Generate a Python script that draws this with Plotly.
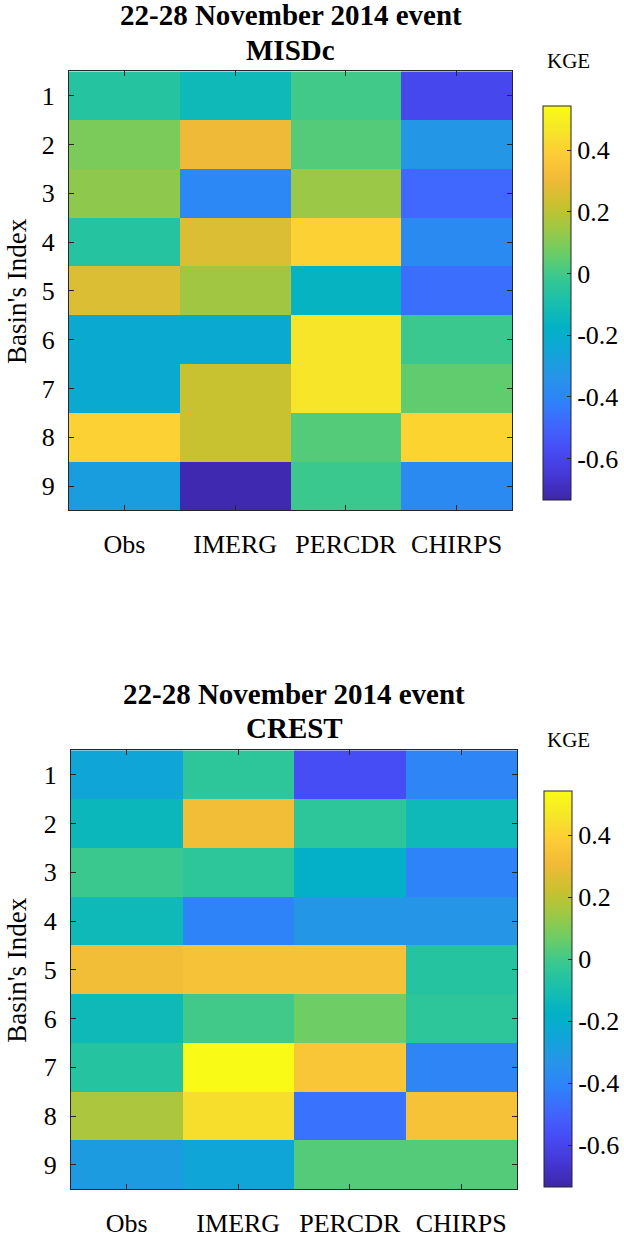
import plotly.graph_objects as go

products = ["Obs", "IMERG", "PERCDR", "CHIRPS"]
basins = [1, 2, 3, 4, 5, 6, 7, 8, 9]
title_line1 = "22-28 November 2014 event"
model_names = ["MISDc", "CREST"]

# KGE values, rows = basins 1..9, columns = Obs, IMERG, PERCDR, CHIRPS
kge_misdc = [
    [-0.06, -0.13, 0.00, -0.59],
    [0.09, 0.30, 0.03, -0.32],
    [0.12, -0.39, 0.14, -0.49],
    [-0.06, 0.26, 0.40, -0.38],
    [0.26, 0.15, -0.16, -0.47],
    [-0.22, -0.22, 0.46, -0.01],
    [-0.22, 0.22, 0.46, 0.05],
    [0.40, 0.22, 0.03, 0.41],
    [-0.29, -0.72, -0.01, -0.38],
]
kge_crest = [
    [-0.25, -0.04, -0.57, -0.40],
    [-0.14, 0.32, -0.04, -0.13],
    [-0.01, -0.04, -0.18, -0.41],
    [-0.13, -0.41, -0.32, -0.33],
    [0.32, 0.34, 0.34, -0.06],
    [-0.13, 0.00, 0.07, -0.04],
    [-0.06, 0.54, 0.36, -0.40],
    [0.17, 0.44, -0.46, 0.34],
    [-0.30, -0.25, 0.03, 0.03],
]
cbar_ticks = [-0.6, -0.4, -0.2, 0, 0.2, 0.4]
cbar_ticktext = ["-0.6", "-0.4", "-0.2", "0", "0.2", "0.4"]
zmin, zmax = -0.735, 0.543

parula_rgb = [
    (0.2422, 0.1504, 0.6603), (0.2706, 0.2147, 0.8364), (0.2783, 0.2925, 0.9558),
    (0.2540, 0.3966, 0.9972), (0.1808, 0.5090, 0.9768), (0.1531, 0.5790, 0.9125),
    (0.0684, 0.6440, 0.8480), (0.0077, 0.6937, 0.7778), (0.0956, 0.7499, 0.6826),
    (0.2100, 0.7830, 0.5740), (0.4155, 0.8031, 0.4050), (0.6166, 0.7838, 0.2685),
    (0.7908, 0.7567, 0.1836), (0.9408, 0.7276, 0.2173), (0.9935, 0.7957, 0.2166),
    (0.9628, 0.9020, 0.1558), (0.9769, 0.9839, 0.0805),
]
n = len(parula_rgb)
parula = [[i / (n - 1), "rgb(%d,%d,%d)" % tuple(round(c * 255) for c in rgb)]
          for i, rgb in enumerate(parula_rgb)]

W, H = 624, 1238
FONT = "Liberation Serif"
AX = "#262626"

panels = [
    dict(z=kge_misdc, x0=69, x1=512, y0=72, y1=515, cb_x=543, cb_top=107, cb_len=398),
    dict(z=kge_crest, x0=71, x1=517, y0=757, y1=1200, cb_x=544, cb_top=798, cb_len=400),
]

fig = go.Figure()
annotations = []
for i, p in enumerate(panels):
    sfx = "" if i == 0 else "2"
    fig.add_trace(go.Heatmap(
        z=p["z"], x=products, y=basins,
        xaxis="x" + sfx, yaxis="y" + sfx,
        colorscale=parula, zmin=zmin, zmax=zmax,
        colorbar=dict(
            x=p["cb_x"] / W, xanchor="left", xref="paper",
            y=1 - p["cb_top"] / H, yanchor="top", yref="paper",
            len=p["cb_len"] / H, lenmode="fraction",
            thickness=28, thicknessmode="pixels",
            outlinecolor=AX, outlinewidth=1,
            tickvals=cbar_ticks, ticktext=cbar_ticktext,
            ticks="inside", ticklen=4, tickcolor=AX,
            tickfont=dict(family=FONT, size=26, color="black"),
            ypad=0, xpad=0,
        ),
        hoverinfo="skip",
    ))
    xa = dict(
        domain=[p["x0"] / W, p["x1"] / W],
        anchor="y" + sfx,
        showline=True, linecolor=AX, linewidth=1, mirror="ticks",
        ticks="inside", ticklen=5, tickcolor=AX,
        tickfont=dict(family=FONT, size=26, color="black"),
        ticklabelstandoff=10,
        showgrid=False, zeroline=False, fixedrange=True,
    )
    ya = dict(
        domain=[1 - p["y1"] / H, 1 - p["y0"] / H],
        anchor="x" + sfx,
        range=[9.5, 0.5],
        tickvals=basins,
        showline=True, linecolor=AX, linewidth=1, mirror="ticks",
        ticks="inside", ticklen=5, tickcolor=AX,
        tickfont=dict(family=FONT, size=26, color="black"),
        ticklabelstandoff=8,
        showgrid=False, zeroline=False, fixedrange=True,
    )
    fig.update_layout(**{"xaxis" + sfx: xa, "yaxis" + sfx: ya})
    cx = (p["x0"] + p["x1"]) / 2
    annotations += [
        dict(text="<b>%s</b>" % title_line1, x=cx / W, y=1 - (p["y0"] - 57) / H,
             xref="paper", yref="paper", showarrow=False, xanchor="center", yanchor="middle",
             font=dict(family=FONT, size=29, color="black")),
        dict(text="<b>%s</b>" % model_names[i], x=cx / W, y=1 - (p["y0"] - 22) / H,
             xref="paper", yref="paper", showarrow=False, xanchor="center", yanchor="middle",
             font=dict(family=FONT, size=29, color="black")),
        dict(text="Basin's Index", x=17 / W, y=1 - ((p["y0"] + p["y1"]) / 2) / H,
             xref="paper", yref="paper", showarrow=False, xanchor="center", yanchor="middle",
             textangle=-90, font=dict(family=FONT, size=27, color="black")),
        dict(text="KGE", x=568 / W, y=1 - (p["y0"] - 10) / H,
             xref="paper", yref="paper", showarrow=False, xanchor="center", yanchor="middle",
             font=dict(family=FONT, size=21, color="black")),
    ]

fig.update_layout(
    width=W, height=H,
    margin=dict(l=0, r=0, t=0, b=0),
    paper_bgcolor="white", plot_bgcolor="white",
    annotations=annotations,
    showlegend=False,
)
fig.write_html(
    "out.html",
    config={"displayModeBar": False},
    post_script="document.body.style.margin='0';document.body.style.overflow='hidden';",
)
